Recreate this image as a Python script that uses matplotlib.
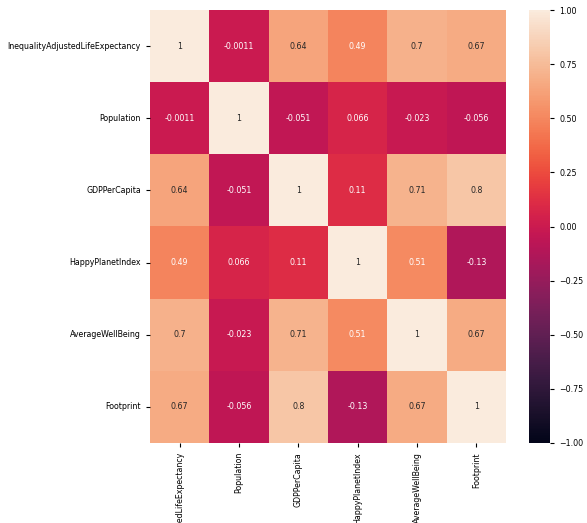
import matplotlib
matplotlib.use("Agg")
import matplotlib.pyplot as plt
import seaborn as sns
import numpy as np
import pandas as pd

labels = ["InequalityAdjustedLifeExpectancy", "Population", "GDPPerCapita",
          "HappyPlanetIndex", "AverageWellBeing", "Footprint"]
row_ineq = [1, -0.0011, 0.64, 0.49, 0.7, 0.67]
row_pop = [-0.0011, 1, -0.051, 0.066, -0.023, -0.056]
row_gdp = [0.64, -0.051, 1, 0.11, 0.71, 0.8]
row_hpi = [0.49, 0.066, 0.11, 1, 0.51, -0.13]
row_awb = [0.7, -0.023, 0.71, 0.51, 1, 0.67]
row_fp = [0.67, -0.056, 0.8, -0.13, 0.67, 1]

corr = pd.DataFrame([row_ineq, row_pop, row_gdp, row_hpi, row_awb, row_fp],
                    index=labels, columns=labels)

W, H = 587, 523
fig = plt.figure(figsize=(W / 100, H / 100), dpi=100)
ax = fig.add_axes([150 / W, 1 - 443 / H, (506 - 150) / W, (443 - 10) / H])
cax = fig.add_axes([529 / W, 1 - 443 / H, (550 - 529) / W, (443 - 10) / H])

fs = 5.7
sns.heatmap(corr, vmin=-1, vmax=1, annot=True, ax=ax, cbar_ax=cax,
            annot_kws={"fontsize": fs})
ax.tick_params(labelsize=fs, length=3)
cax.tick_params(labelsize=fs, length=3)
ax.set_xticklabels(labels, rotation=90, fontsize=fs)
ax.set_yticklabels(labels, rotation=0, fontsize=fs)

fig.savefig("out.png", dpi=100)
